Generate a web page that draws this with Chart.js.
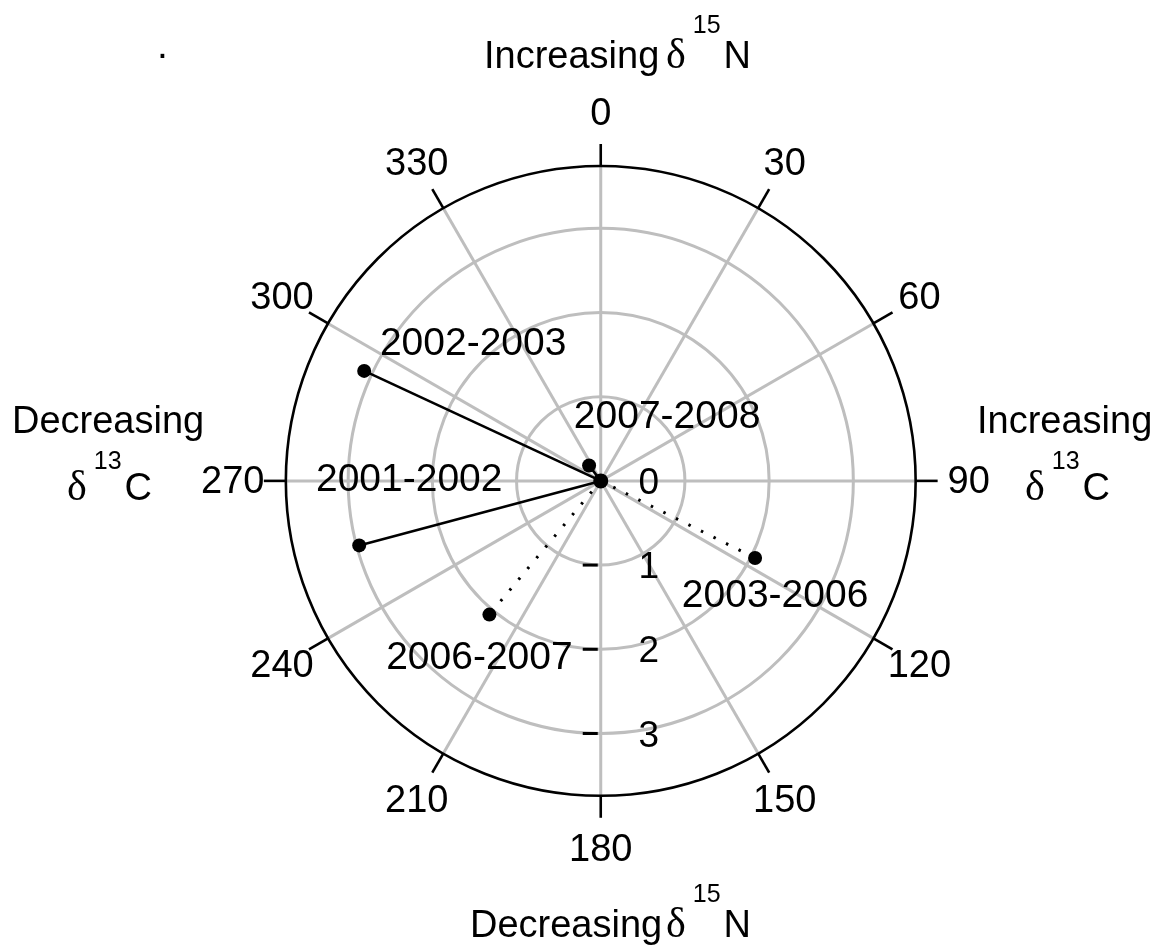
<!DOCTYPE html>
<html>
<head>
<meta charset="utf-8">
<title>Isotope shift vectors</title>
<script src="https://cdn.jsdelivr.net/npm/chart.js@4/dist/chart.umd.min.js"></script>
<style>
  html, body { margin: 0; padding: 0; background: #fff; }
  #wrap { width: 1162px; height: 947px; }
</style>
</head>
<body>
<div id="wrap"><canvas id="polar" width="1162" height="947"></canvas></div>
<script>
/* ================= DATA ================= */
// shift per period: direction in degrees (clockwise from +d15N) and length in permil
const periods = ["2001-2002", "2002-2003", "2003-2006", "2006-2007", "2007-2008"];
const angles = [255, 295, 116.6, 219.7, 323];
const magnitudes = [2.97, 3.10, 2.05, 2.07, 0.23];

const radialTicks = [0, 1, 2, 3];
const angleTicks = [0, 30, 60, 90, 120, 150, 180, 210, 240, 270, 300, 330];
const outerRadius = 3.74;

/* ================= STYLE ================= */
const dottedPeriods = ["2003-2006", "2006-2007"];
const GRID = "#bebebe";
const FONT = '"Liberation Sans", Arial, sans-serif';
const SERIF = '"Liberation Serif", "DejaVu Serif", serif';

// label placement (px) relative to each vector's end point
const labelOffsets = {
    "2001-2002": [50, -65],
    "2002-2003": [109, -27],
    "2003-2006": [20, 38],
    "2006-2007": [-10, 44],
    "2007-2008": [78, -48]
};

const PX_PER_UNIT = 85.3;
const CX = 601, CY = 481;

/* ================= DATASETS ================= */
const vectorSets = periods.map((p, i) => {
    const t = angles[i] * Math.PI / 180;
    const dotted = dottedPeriods.includes(p);
    return {
        label: p,
        data: [{ x: 0, y: 0 }, { x: magnitudes[i] * Math.sin(t), y: magnitudes[i] * Math.cos(t) }],
        showLine: true,
        borderColor: "#000",
        borderWidth: dotted ? 3 : 2.6,
        borderDash: dotted ? [2.5, 11.5] : [],
        pointRadius: [0, 7],
        pointBackgroundColor: "#000",
        pointBorderWidth: 0
    };
});

const originSet = {
    label: "origin",
    data: [{ x: 0, y: 0 }],
    pointRadius: 7.5,
    pointBackgroundColor: "#000",
    pointBorderWidth: 0
};

/* ================= HELPERS ================= */
// draws "δ^sup letter" starting at x on the given baseline
function deltaLabel(ctx, x, base, sup, letter, raise) {
    ctx.textAlign = "left";
    ctx.textBaseline = "alphabetic";
    ctx.font = "42px " + SERIF;
    ctx.fillText("\u03B4", x, base);
    let cx = x + ctx.measureText("\u03B4").width + 7;
    ctx.font = "25px " + FONT;
    ctx.fillText(sup, cx, base - raise);
    cx += ctx.measureText(sup).width + 3;
    ctx.font = "38px " + FONT;
    ctx.fillText(letter, cx, base);
}

/* ================= POLAR FRAME ================= */
const polarFrame = {
    id: "polarFrame",
    beforeDatasetsDraw(chart) {
        const { ctx, scales: { x, y } } = chart;
        const ox = x.getPixelForValue(0), oy = y.getPixelForValue(0);
        const unit = x.getPixelForValue(1) - ox;
        const at = (deg, r) => {
            const t = deg * Math.PI / 180;
            return [ox + r * unit * Math.sin(t), oy - r * unit * Math.cos(t)];
        };

        ctx.save();
        // rings
        ctx.strokeStyle = GRID;
        ctx.lineWidth = 3;
        radialTicks.filter(r => r > 0).forEach(r => {
            ctx.beginPath();
            ctx.arc(ox, oy, r * unit, 0, Math.PI * 2);
            ctx.stroke();
        });
        // spokes
        angleTicks.forEach(a => {
            const [ex, ey] = at(a, outerRadius);
            ctx.beginPath();
            ctx.moveTo(ox, oy);
            ctx.lineTo(ex, ey);
            ctx.stroke();
        });
        // outer circle and angle ticks
        ctx.strokeStyle = "#000";
        ctx.lineWidth = 2.6;
        ctx.beginPath();
        ctx.arc(ox, oy, outerRadius * unit, 0, Math.PI * 2);
        ctx.stroke();
        angleTicks.forEach(a => {
            const [sx, sy] = at(a, outerRadius);
            const [ex, ey] = at(a, outerRadius + 22 / unit);
            ctx.beginPath();
            ctx.moveTo(sx, sy);
            ctx.lineTo(ex, ey);
            ctx.stroke();
        });
        // angle labels
        ctx.fillStyle = "#000";
        ctx.font = "38px " + FONT;
        ctx.textAlign = "center";
        ctx.textBaseline = "middle";
        angleTicks.forEach(a => {
            const [lx, ly] = at(a, 368 / unit);
            ctx.fillText(String(a), lx, ly + 2);
        });
        // radial axis ticks along 180
        ctx.lineWidth = 3;
        radialTicks.forEach(r => {
            const py = oy + r * unit;
            if (r > 0) {
                ctx.beginPath();
                ctx.moveTo(ox - 18, py);
                ctx.lineTo(ox - 3, py);
                ctx.stroke();
            }
            ctx.font = "37px " + FONT;
            ctx.fillText(String(r), ox + 48, py + 3);
        });
        ctx.restore();
    },
    afterDatasetsDraw(chart) {
        const { ctx } = chart;
        ctx.save();
        ctx.fillStyle = "#000";
        ctx.font = "39px " + FONT;
        ctx.textAlign = "center";
        ctx.textBaseline = "middle";
        periods.forEach((p, i) => {
            const pt = chart.getDatasetMeta(i).data[1];
            const [dx, dy] = labelOffsets[p];
            ctx.fillText(p, pt.x + dx, pt.y + dy);
        });

        // axis captions
        ctx.textAlign = "left";
        ctx.textBaseline = "alphabetic";
        ctx.fillText(".", 157, 58);
        ctx.font = "38px " + FONT;
        ctx.fillText("Increasing", 484, 68);
        deltaLabel(ctx, 666, 68, "15", "N", 35);
        ctx.font = "38px " + FONT;
        ctx.fillText("Decreasing", 470, 937);
        deltaLabel(ctx, 666, 937, "15", "N", 35);
        ctx.font = "38px " + FONT;
        ctx.fillText("Decreasing", 12, 433);
        deltaLabel(ctx, 67, 500, "13", "C", 31);
        ctx.font = "38px " + FONT;
        ctx.fillText("Increasing", 977, 433);
        deltaLabel(ctx, 1025, 500, "13", "C", 31);
        ctx.restore();
    }
};

/* ================= CHART ================= */
new Chart(document.getElementById("polar"), {
    type: "scatter",
    data: { datasets: [...vectorSets, originSet] },
    options: {
        responsive: false,
        animation: false,
        devicePixelRatio: 1,
        events: [],
        layout: { padding: 0 },
        plugins: { legend: { display: false }, tooltip: { enabled: false } },
        scales: {
            x: { display: false, min: -CX / PX_PER_UNIT, max: (1162 - CX) / PX_PER_UNIT },
            y: { display: false, min: -(947 - CY) / PX_PER_UNIT, max: CY / PX_PER_UNIT }
        }
    },
    plugins: [polarFrame]
});
</script>
</body>
</html>
